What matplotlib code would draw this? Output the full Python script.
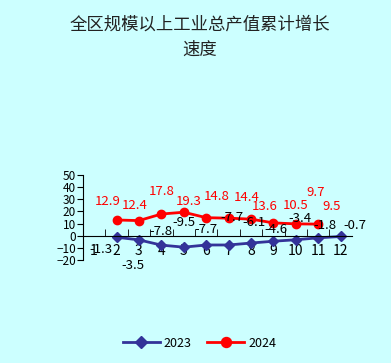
import matplotlib.pyplot as plt

plt.rcParams['font.family'] = ['Noto Sans CJK SC', 'DejaVu Sans']

# 月份
months = list(range(1, 13))
months_2023 = [2, 3, 4, 5, 6, 7, 8, 9, 10, 11, 12]
vals_2023 = [-1.3, -3.5, -7.8, -9.5, -7.7, -7.7, -6.1, -4.6, -3.4, -1.8, -0.7]
months_2024 = [2, 3, 4, 5, 6, 7, 8, 9, 10, 11]
vals_2024 = [12.9, 12.4, 17.8, 19.3, 14.8, 14.4, 13.6, 10.5, 9.7, 9.5]

# 标签偏移(像素)
off_2023 = [(-16, -12), (-6, -26), (0, 14), (0, 25), (0, 15), (3, 27),
            (3, 21), (3, 12), (4, 21), (7, 12), (14, 11)]
off_2024 = [(-9, 18), (-4, 15), (0, 23), (5, 11), (11, 21), (18, 21),
            (14, 13), (22, 17), (20, 31), (13, 18)]

bg = '#ccffff'
fig = plt.figure(figsize=(3.91, 3.63), dpi=100, facecolor=bg)
ax = fig.add_axes([0.212, 0.284, 0.688, 0.234])
ax.set_facecolor(bg)

ax.plot(months_2023, vals_2023, color='#333399', marker='D', markersize=5,
        linewidth=2, label='2023')
ax.plot(months_2024, vals_2024, color='#ff0000', marker='o', markersize=6,
        linewidth=2, label='2024')

for m, v, o in zip(months_2023, vals_2023, off_2023):
    ax.annotate(f'{v}', (m, v), xytext=o, textcoords='offset pixels',
                ha='center', va='center', fontsize=9.5, color='black')
for m, v, o in zip(months_2024, vals_2024, off_2024):
    ax.annotate(f'{v}', (m, v), xytext=o, textcoords='offset pixels',
                ha='center', va='center', fontsize=9.5, color='red')

ax.set_xlim(0.5, 12.5)
ax.set_ylim(-20, 50)
ax.set_yticks(range(-20, 51, 10))
ax.set_xticks(months)
ax.set_xticks([m + 0.5 for m in months[:-1]], minor=True)
ax.tick_params(axis='x', which='major', length=0, labelsize=10, pad=6)
ax.tick_params(axis='x', which='minor', direction='in', length=5)
ax.tick_params(axis='y', labelsize=8.5, length=4, pad=1)
ax.spines['bottom'].set_position(('data', 0))
ax.spines['top'].set_visible(False)
ax.spines['right'].set_visible(False)

fig.text(0.51, 0.898, '全区规模以上工业总产值累计增长\n速度', ha='center', va='center',
         fontsize=12.5, color='#222222', linespacing=1.5)

fig.legend(loc='center', bbox_to_anchor=(0.51, 0.055), ncol=2, frameon=False,
           fontsize=9, handlelength=3, columnspacing=1.2, handletextpad=0.3,
           markerscale=1.2)

fig.savefig('out.png', dpi=100, facecolor=bg)
